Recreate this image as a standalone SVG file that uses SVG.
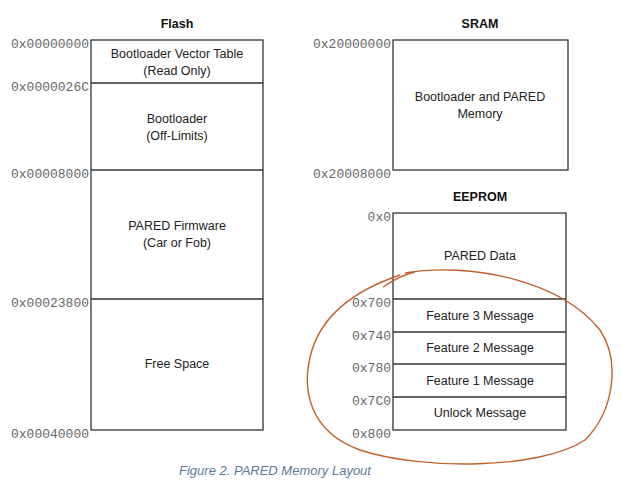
<svg xmlns="http://www.w3.org/2000/svg" width="622" height="493" viewBox="0 0 622 493">
<style>
.b{fill:#fff;stroke:#333;stroke-width:1.3}
.l{stroke:#333;stroke-width:1.3}
.t{font-family:"Liberation Sans",Arial,sans-serif;font-size:12.5px;fill:#222;text-anchor:middle}
.h{font-family:"Liberation Sans",Arial,sans-serif;font-size:12.5px;font-weight:bold;fill:#111;text-anchor:middle}
.a{font-family:"Liberation Mono","Courier New",monospace;font-size:13px;fill:#666;text-anchor:end}
</style>
<rect width="622" height="493" fill="#fff"/>
<g id="flash">
<text class="h" x="177" y="28">Flash</text>
<rect class="b" x="91" y="40" width="172" height="390"/>
<line class="l" x1="91" y1="83" x2="263" y2="83"/>
<line class="l" x1="91" y1="170" x2="263" y2="170"/>
<line class="l" x1="91" y1="299" x2="263" y2="299"/>
<text class="t" x="177" y="58">Bootloader Vector Table</text>
<text class="t" x="177" y="75">(Read Only)</text>
<text class="t" x="177" y="123">Bootloader</text>
<text class="t" x="177" y="140">(Off-Limits)</text>
<text class="t" x="177" y="230">PARED Firmware</text>
<text class="t" x="177" y="247">(Car or Fob)</text>
<text class="t" x="177" y="368">Free Space</text>
<text class="a" x="89" y="48">0x00000000</text>
<text class="a" x="89" y="91">0x0000026C</text>
<text class="a" x="89" y="178">0x00008000</text>
<text class="a" x="89" y="307">0x00023800</text>
<text class="a" x="89" y="438">0x00040000</text>
</g>
<g id="sram">
<text class="h" x="480" y="28">SRAM</text>
<rect class="b" x="393" y="40" width="175" height="130"/>
<text class="t" x="480" y="101">Bootloader and PARED</text>
<text class="t" x="480" y="118">Memory</text>
<text class="a" x="391" y="48">0x20000000</text>
<text class="a" x="391" y="178">0x20008000</text>
</g>
<g id="eeprom">
<text class="h" x="480" y="201">EEPROM</text>
<rect class="b" x="393" y="213" width="173" height="217"/>
<line class="l" x1="393" y1="299" x2="566" y2="299"/>
<line class="l" x1="393" y1="332" x2="566" y2="332"/>
<line class="l" x1="393" y1="364" x2="566" y2="364"/>
<line class="l" x1="393" y1="397" x2="566" y2="397"/>
<text class="t" x="480" y="260">PARED Data</text>
<text class="t" x="480" y="320">Feature 3 Message</text>
<text class="t" x="480" y="352">Feature 2 Message</text>
<text class="t" x="480" y="385">Feature 1 Message</text>
<text class="t" x="480" y="417">Unlock Message</text>
<text class="a" x="391" y="221">0x0</text>
<text class="a" x="391" y="307">0x700</text>
<text class="a" x="391" y="340">0x740</text>
<text class="a" x="391" y="372">0x780</text>
<text class="a" x="391" y="405">0x7C0</text>
<text class="a" x="391" y="438">0x800</text>
</g>
<g id="annotation" fill="none" stroke="#c0602a" stroke-width="1.4">
<path d="M383 287 C395 279 405 274 415 272"/>
<path d="M405 273 C470 262 560 280 600 330 C620 360 615 410 585 440 C540 470 420 470 360 450 C310 432 300 390 312 350 C322 318 350 292 400 275"/>
</g>
<text x="275" y="475" font-family="Liberation Sans,Arial,sans-serif" font-size="13" font-style="italic" fill="#5a7a9a" text-anchor="middle">Figure 2. PARED Memory Layout</text>
</svg>
